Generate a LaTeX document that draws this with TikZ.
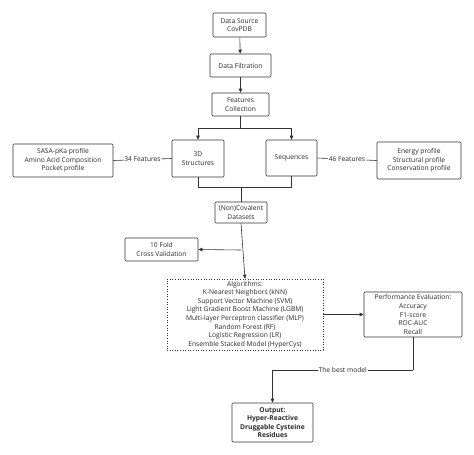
\documentclass[tikz,border=0pt]{standalone}
\usepackage{fontspec}
\setmainfont{Open Sans}
\usetikzlibrary{arrows.meta, positioning, calc}
\definecolor{lnclr}{HTML}{333333}
\definecolor{txclr}{HTML}{2A2A2A}

\begin{document}
\begin{tikzpicture}[x=1pt, y=-1pt, font=\fontsize{6.7}{8.6}\selectfont, text=txclr,
    blk/.style={draw=lnclr, line width=0.6pt, rounded corners=1pt, inner sep=1pt, align=center},
    algbox/.style={draw=lnclr, line width=0.6pt, dotted, inner sep=1pt, align=center},
    conn/.style={draw=lnclr, line width=0.6pt},
    arr/.style={conn, -{Triangle[length=4pt, width=3.5pt]}},
    lbl/.style={fill=white, inner sep=0.8pt}]
    \useasboundingbox (0,0) rectangle (474,455);
    % main column
    \node[blk, minimum width=53pt, minimum height=24pt] (src)  at (239.5,25)  {Data Source\\CovPDB};
    \node[blk, minimum width=61pt, minimum height=23pt] (filt) at (240.5,65.5) {Data Filtration};
    \node[blk, minimum width=57pt, minimum height=23pt] (feat) at (240.5,104.5) {Features\\Collection};
    \node[blk, minimum width=52pt, minimum height=37pt] (s3d)  at (198,158.5) {3D\\Structures};
    \node[blk, minimum width=51pt, minimum height=36pt] (seq)  at (291.5,158) {Sequences};
    \node[blk, minimum width=100pt, minimum height=33pt] (sasa) at (63,160.5)
        {SASA-pKa profile\\Amino Acid Composition\\Pocket profile};
    \node[blk, minimum width=84pt, minimum height=37pt] (engy) at (419,160.5)
        {Energy profile\\Structural profile\\Conservation profile};
    \node[blk, minimum width=52pt, minimum height=21pt] (ncov) at (241,212.5) {(Non)Covalent\\Datasets};
    \node[blk, minimum width=73pt, minimum height=23pt] (fold) at (161.5,249.5) {10 Fold\\Cross Validation};
    \node[algbox, minimum width=156pt, minimum height=71pt] (algo) at (245,314.5)
        {Algorithms:\\K-Nearest Neighbors (kNN)\\Support Vector Machine (SVM)\\Light Gradient Boost Machine (LGBM)\\
         Multi-layer Perceptron classifier (MLP)\\Random Forest (RF)\\Logistic Regression (LR)\\Ensemble Stacked Model (HyperCys)};
    \node[blk, minimum width=98pt, minimum height=45pt] (perf) at (413,314.5)
        {Performance Evaluation:\\Accuracy\\F1-score\\ROC-AUC\\Recall};
    \node[blk, minimum width=81pt, minimum height=39pt, font=\fontsize{6.7}{8.6}\selectfont\bfseries] (out) at (272.5,422.5)
        {Output:\\Hyper-Reactive\\Druggable Cysteine\\Residues};
    % junctions
    \coordinate (fsplit) at (feat.south |- 0,128);
    \coordinate (dmerge) at (ncov.north |- 0,187.5);
    \coordinate (cvsplit) at (ncov.south |- 0,250);
    \coordinate (bturn) at (perf.south |- 0,370);
    % connectors
    \draw[arr] (src) -- (filt);
    \draw[arr] (filt) -- (feat);
    \draw[conn] (feat.south) -- (fsplit);
    \draw[arr] (fsplit) -| (s3d.north);
    \draw[arr] (fsplit) -| (seq.north);
    \draw[conn] (sasa.east) -- node[lbl]{34 Features} (s3d.west);
    \draw[conn] (seq.east) -- node[lbl]{46 Features} (engy.west);
    \draw[conn] (s3d.south) |- (dmerge);
    \draw[conn] (seq.south) |- (dmerge);
    \draw[conn] (dmerge) -- (ncov.north);
    \draw[arr] (ncov.south) -- (algo.north);
    \draw[arr] (cvsplit) -- (fold.east);
    \draw[arr] (algo.east) -- (perf.west);
    \draw[conn] (perf.south) -- (bturn);
    \draw[arr] (bturn) -- node[lbl]{The best model} (out.north |- bturn) -- (out.north);
\end{tikzpicture}
\end{document}
